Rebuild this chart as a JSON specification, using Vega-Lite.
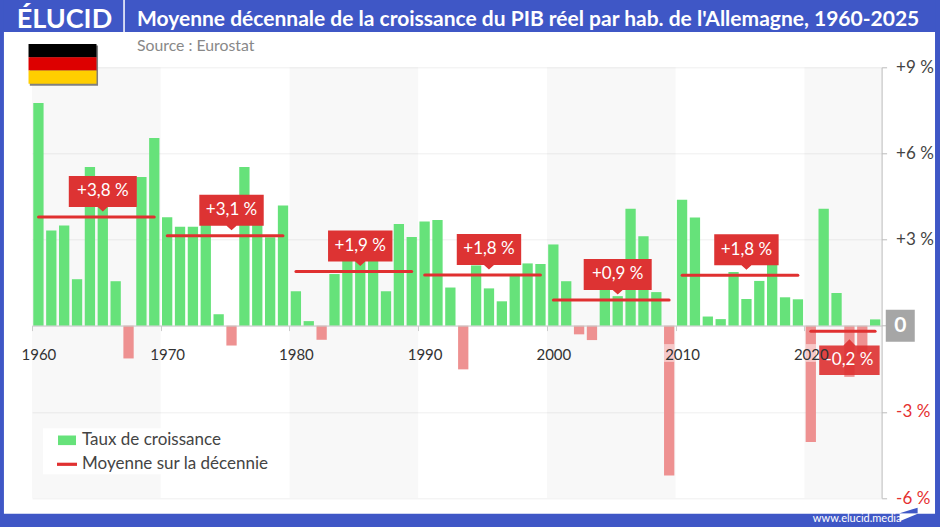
{
  "$schema": "https://vega.github.io/schema/vega-lite/v6.json",
  "autosize": "none",
  "width": 849.6,
  "height": 430.7,
  "padding": {"left": 32, "top": 67.3, "right": 58.4, "bottom": 29},
  "background": "#ffffff",
  "title": {
    "text": "Moyenne décennale de la croissance du PIB réel par hab. de l'Allemagne, 1960-2025",
    "subtitle": "Source : Eurostat",
    "anchor": "start",
    "frame": "group",
    "dx": 105,
    "offset": -54,
    "font": "Lato",
    "fontSize": 21,
    "fontWeight": "bold",
    "color": "#ffffff",
    "subtitleFont": "Lato",
    "subtitleFontSize": 15.8,
    "subtitleColor": "#888888",
    "subtitlePadding": 9,
    "zindex": 1
  },
  "datasets": {
    "one": [{"k": 1}],
    "growth": [
      {"year": 1960, "growth": 7.76}, {"year": 1961, "growth": 3.32}, {"year": 1962, "growth": 3.49},
      {"year": 1963, "growth": 1.62}, {"year": 1964, "growth": 5.53}, {"year": 1965, "growth": 4.4},
      {"year": 1966, "growth": 1.55}, {"year": 1967, "growth": -1.14}, {"year": 1968, "growth": 5.18},
      {"year": 1969, "growth": 6.54}, {"year": 1970, "growth": 3.78}, {"year": 1971, "growth": 3.45},
      {"year": 1972, "growth": 3.45}, {"year": 1973, "growth": 4.2}, {"year": 1974, "growth": 0.4},
      {"year": 1975, "growth": -0.69}, {"year": 1976, "growth": 5.53}, {"year": 1977, "growth": 3.6},
      {"year": 1978, "growth": 3.08}, {"year": 1979, "growth": 4.19}, {"year": 1980, "growth": 1.2},
      {"year": 1981, "growth": 0.16}, {"year": 1982, "growth": -0.49}, {"year": 1983, "growth": 1.8},
      {"year": 1984, "growth": 2.9}, {"year": 1985, "growth": 2.4}, {"year": 1986, "growth": 2.4},
      {"year": 1987, "growth": 1.2}, {"year": 1988, "growth": 3.54}, {"year": 1989, "growth": 3.09},
      {"year": 1990, "growth": 3.63}, {"year": 1991, "growth": 3.68}, {"year": 1992, "growth": 1.33},
      {"year": 1993, "growth": -1.52}, {"year": 1994, "growth": 2.1}, {"year": 1995, "growth": 1.3},
      {"year": 1996, "growth": 0.85}, {"year": 1997, "growth": 1.74}, {"year": 1998, "growth": 2.17},
      {"year": 1999, "growth": 2.15}, {"year": 2000, "growth": 2.83}, {"year": 2001, "growth": 1.55},
      {"year": 2002, "growth": -0.3}, {"year": 2003, "growth": -0.5}, {"year": 2004, "growth": 1.27},
      {"year": 2005, "growth": 1.03}, {"year": 2006, "growth": 4.07}, {"year": 2007, "growth": 3.12},
      {"year": 2008, "growth": 1.17}, {"year": 2009, "growth": -5.22}, {"year": 2010, "growth": 4.39},
      {"year": 2011, "growth": 3.77}, {"year": 2012, "growth": 0.32}, {"year": 2013, "growth": 0.23},
      {"year": 2014, "growth": 1.87}, {"year": 2015, "growth": 0.93}, {"year": 2016, "growth": 1.56},
      {"year": 2017, "growth": 2.2}, {"year": 2018, "growth": 0.99}, {"year": 2019, "growth": 0.92},
      {"year": 2020, "growth": -4.05}, {"year": 2021, "growth": 4.07}, {"year": 2022, "growth": 1.14},
      {"year": 2023, "growth": -1.78}, {"year": 2024, "growth": -1.0}, {"year": 2025, "growth": 0.22}
    ],
    "shaded": [
      {"from": 1960, "to": 1970},
      {"from": 1980, "to": 1990},
      {"from": 2000, "to": 2010},
      {"from": 2020, "to": 2026}
    ],
    "means": [
      {"from": 1960, "to": 1970, "at": 1965, "mean": 3.79, "label": "+3,8 %"},
      {"from": 1970, "to": 1980, "at": 1975, "mean": 3.13, "label": "+3,1 %"},
      {"from": 1980, "to": 1990, "at": 1985, "mean": 1.89, "label": "+1,9 %"},
      {"from": 1990, "to": 2000, "at": 1995, "mean": 1.77, "label": "+1,8 %"},
      {"from": 2000, "to": 2010, "at": 2005, "mean": 0.9, "label": "+0,9 %"},
      {"from": 2010, "to": 2020, "at": 2015, "mean": 1.76, "label": "+1,8 %"},
      {"from": 2020, "to": 2026, "at": 2023, "mean": -0.19, "label": "-0,2 %"}
    ],
    "series": [
      {"serie": "Taux de croissance"},
      {"serie": "Moyenne sur la décennie"}
    ]
  },
  "layer": [
    {
      "data": {"name": "shaded"},
      "mark": {"type": "rect", "fill": "#000000", "opacity": 0.028},
      "encoding": {
        "x": {
          "field": "from",
          "type": "quantitative",
          "scale": {"domain": [1960, 2026], "nice": false, "zero": false, "padding": 0},
          "axis": {
            "title": null,
            "values": [1960, 1970, 1980, 1990, 2000, 2010, 2020],
            "format": "d",
            "offset": -172.4,
            "grid": false,
            "zindex": 1,
            "domainColor": "#cccccc",
            "tickColor": "#cccccc",
            "tickSize": 5,
            "labelOffset": 6.43,
            "labelPadding": 17,
            "labelFont": "Lato",
            "labelFontSize": 15,
            "labelColor": "#333333",
            "labelOverlap": false,
            "labelFlush": false
          }
        },
        "x2": {"field": "to"},
        "y": {
          "datum": 9,
          "type": "quantitative",
          "scale": {"domain": [-6, 9], "nice": false, "zero": false, "padding": 0},
          "axis": {
            "title": null,
            "orient": "right",
            "values": [-6, -3, 0, 3, 6, 9],
            "labelExpr": "datum.value > 0 ? '+' + datum.value + ' %' : datum.value < 0 ? datum.value + ' %' : ''",
            "grid": true,
            "gridColor": "#efefef",
            "domainColor": "#bbbbbb",
            "tickColor": "#bbbbbb",
            "tickSize": 5,
            "labelPadding": 9,
            "labelFont": "Lato",
            "labelFontSize": 17,
            "labelColor": {"condition": {"test": "datum.value < 0", "value": "#e53030"}, "value": "#444444"}
          }
        },
        "y2": {"datum": -6}
      }
    },
    {
      "data": {"name": "growth"},
      "mark": {"type": "bar", "orient": "vertical", "width": 10.3, "xOffset": 6.43},
      "encoding": {
        "x": {"field": "year", "type": "quantitative"},
        "y": {"field": "growth", "type": "quantitative"},
        "color": {
          "condition": {"test": "datum.growth < 0", "value": "#ee9191"},
          "value": "#66e27a"
        }
      }
    },
    {
      "data": {"name": "growth"},
      "transform": [{"filter": "datum.year == 2009 || datum.year == 2020"}],
      "mark": {"type": "bar", "orient": "vertical", "width": 10.3, "xOffset": 6.43, "fill": "#ffffff", "opacity": 0.5},
      "encoding": {
        "x": {"field": "year", "type": "quantitative"},
        "y": {"datum": -0.64, "type": "quantitative"},
        "y2": {"datum": -1.26}
      }
    },
    {
      "data": {"name": "means"},
      "mark": {"type": "rule", "color": "#e03030", "strokeWidth": 3, "strokeCap": "round", "xOffset": 6.5, "x2Offset": -6.5},
      "encoding": {
        "x": {"field": "from", "type": "quantitative"},
        "x2": {"field": "to"},
        "y": {"field": "mean", "type": "quantitative"}
      }
    },
    {
      "data": {"name": "means"},
      "transform": [{"filter": "datum.label == '+3,8 %' || datum.label == '+0,9 %'"}],
      "mark": {"type": "point", "filled": true, "opacity": 1, "color": "#dd3333", "size": 40000, "xOffset": 6.43, "shape": "M-.34,-.41H.34V-.10H.05L0,-.055L-.05,-.10H-.34Z"},
      "encoding": {
        "x": {"field": "at", "type": "quantitative"},
        "y": {"field": "mean", "type": "quantitative"}
      }
    },
    {
      "data": {"name": "means"},
      "transform": [{"filter": "datum.mean > 0 && datum.label != '+3,8 %' && datum.label != '+0,9 %'"}],
      "mark": {"type": "point", "filled": true, "opacity": 1, "color": "#dd3333", "size": 40000, "xOffset": 6.43, "shape": "M-.322,-.41H.322V-.10H.05L0,-.055L-.05,-.10H-.322Z"},
      "encoding": {
        "x": {"field": "at", "type": "quantitative"},
        "y": {"field": "mean", "type": "quantitative"}
      }
    },
    {
      "data": {"name": "means"},
      "transform": [{"filter": "datum.mean < 0"}],
      "mark": {"type": "point", "filled": true, "opacity": 0.92, "color": "#dd3333", "size": 40000, "xOffset": 6.43, "shape": "M-.302,.143H-.06L0,.08L.06,.143H.302V.437H-.302Z"},
      "encoding": {
        "x": {"field": "at", "type": "quantitative"},
        "y": {"field": "mean", "type": "quantitative"}
      }
    },
    {
      "data": {"name": "means"},
      "transform": [{"filter": "datum.mean > 0"}],
      "mark": {"type": "text", "font": "Lato", "fontSize": 17, "color": "#ffffff", "baseline": "middle", "xOffset": 6.43, "dy": -25.5},
      "encoding": {
        "x": {"field": "at", "type": "quantitative"},
        "y": {"field": "mean", "type": "quantitative"},
        "text": {"field": "label"}
      }
    },
    {
      "data": {"name": "means"},
      "transform": [{"filter": "datum.mean < 0"}],
      "mark": {"type": "text", "font": "Lato", "fontSize": 17, "color": "#ffffff", "baseline": "middle", "xOffset": 6.43, "dy": 29},
      "encoding": {
        "x": {"field": "at", "type": "quantitative"},
        "y": {"field": "mean", "type": "quantitative"},
        "text": {"field": "label"}
      }
    },
    {
      "data": {"name": "series"},
      "mark": {"type": "point", "filled": true, "opacity": 1, "size": 0},
      "encoding": {
        "x": {"datum": 2000, "type": "quantitative"},
        "y": {"datum": 0, "type": "quantitative"},
        "color": {
          "field": "serie",
          "type": "nominal",
          "scale": {"domain": ["Taux de croissance", "Moyenne sur la décennie"], "range": ["#66e27a", "#e03030"]},
          "legend": {
            "title": null,
            "orient": "none",
            "legendX": 11,
            "legendY": 361,
            "fillColor": "#ffffff",
            "padding": 2,
            "labelFont": "Lato",
            "labelFontSize": 17,
            "labelColor": "#444444",
            "labelLimit": 300,
            "symbolSize": 400,
            "symbolOpacity": 1,
            "symbolStrokeWidth": 0,
            "symbolOffset": 12,
            "rowPadding": 6,
            "labelOffset": 5
          }
        },
        "shape": {
          "field": "serie",
          "type": "nominal",
          "scale": {"domain": ["Taux de croissance", "Moyenne sur la décennie"], "range": ["M-.9,-.48H.9V.48H-.9Z", "M-1,-.16H1V.16H-1Z"]},
          "legend": {"title": null}
        }
      }
    },
    {
      "data": {"name": "one"},
      "mark": {"type": "rect", "fill": "#808080"},
      "encoding": {
        "x": {"datum": 1959.83, "type": "quantitative"},
        "x2": {"datum": 1965.13},
        "y": {"datum": 9.76, "type": "quantitative"},
        "y2": {"datum": 8.36}
      }
    },
    {
      "data": {"name": "one"},
      "mark": {"type": "rect", "fill": "#000000"},
      "encoding": {
        "x": {"datum": 1959.73, "type": "quantitative"},
        "x2": {"datum": 1965.01},
        "y": {"datum": 9.81, "type": "quantitative"},
        "y2": {"datum": 9.35}
      }
    },
    {
      "data": {"name": "one"},
      "mark": {"type": "rect", "fill": "#dd0000"},
      "encoding": {
        "x": {"datum": 1959.73, "type": "quantitative"},
        "x2": {"datum": 1965.01},
        "y": {"datum": 9.35, "type": "quantitative"},
        "y2": {"datum": 8.89}
      }
    },
    {
      "data": {"name": "one"},
      "mark": {"type": "rect", "fill": "#ffce00"},
      "encoding": {
        "x": {"datum": 1959.73, "type": "quantitative"},
        "x2": {"datum": 1965.01},
        "y": {"datum": 8.89, "type": "quantitative"},
        "y2": {"datum": 8.43}
      }
    },
    {
      "data": {"name": "one"},
      "mark": {"type": "point", "filled": true, "opacity": 1, "color": "#a6a6a6", "size": 3364, "shape": "M-.5,-.55H.5V.55H-.5Z"},
      "encoding": {
        "x": {"datum": 2027.45, "type": "quantitative"},
        "y": {"datum": 0, "type": "quantitative"}
      }
    },
    {
      "data": {"name": "one"},
      "mark": {"type": "text", "text": "0", "font": "Lato", "fontSize": 21, "fontWeight": "bold", "color": "#ffffff", "baseline": "middle"},
      "encoding": {
        "x": {"datum": 2027.45, "type": "quantitative"},
        "y": {"datum": 0, "type": "quantitative"}
      }
    },
    {
      "data": {"name": "one"},
      "mark": {"type": "rect", "fill": "#3f57c6"},
      "encoding": {
        "x": {"datum": 1957.51, "type": "quantitative"},
        "x2": {"datum": 2030.54},
        "y": {"datum": 11.34, "type": "quantitative"},
        "y2": {"datum": 10.23}
      }
    },
    {
      "data": {"name": "one"},
      "mark": {"type": "rect", "fill": "#3f57c6"},
      "encoding": {
        "x": {"datum": 1957.51, "type": "quantitative"},
        "x2": {"datum": 1957.82},
        "y": {"datum": 11.34, "type": "quantitative"},
        "y2": {"datum": -7.02}
      }
    },
    {
      "data": {"name": "one"},
      "mark": {"type": "rect", "fill": "#3f57c6"},
      "encoding": {
        "x": {"datum": 2030.15, "type": "quantitative"},
        "x2": {"datum": 2030.54},
        "y": {"datum": 11.34, "type": "quantitative"},
        "y2": {"datum": -7.02}
      }
    },
    {
      "data": {"name": "one"},
      "mark": {"type": "rect", "fill": "#3f57c6"},
      "encoding": {
        "x": {"datum": 1957.51, "type": "quantitative"},
        "x2": {"datum": 2030.54},
        "y": {"datum": -6.545, "type": "quantitative"},
        "y2": {"datum": -7.02}
      }
    },
    {
      "data": {"name": "one"},
      "mark": {"type": "rule", "color": "#ffffff", "strokeWidth": 1.5},
      "encoding": {
        "x": {"datum": 1967.15, "type": "quantitative"},
        "y": {"datum": 11.34, "type": "quantitative"},
        "y2": {"datum": 10.23}
      }
    },
    {
      "data": {"name": "one"},
      "mark": {"type": "text", "text": "ÉLUCID", "font": "Lato", "fontSize": 27, "fontWeight": "bold", "color": "#ffffff", "baseline": "middle"},
      "encoding": {
        "x": {"datum": 1962.52, "type": "quantitative"},
        "y": {"datum": 10.65, "type": "quantitative"}
      }
    },
    {
      "data": {"name": "one"},
      "mark": {"type": "text", "text": "www.elucid.media", "font": "Lato", "fontSize": 11, "color": "#ffffff", "baseline": "middle"},
      "encoding": {
        "x": {"datum": 2024.1, "type": "quantitative"},
        "y": {"datum": -6.72, "type": "quantitative"}
      }
    },
    {
      "data": {"name": "one"},
      "mark": {"type": "point", "filled": true, "opacity": 1, "color": "#ffffff", "size": 40000, "shape": "M-.09,0H.09L-.09,.075Z"},
      "encoding": {
        "x": {"datum": 2028.1, "type": "quantitative"},
        "y": {"datum": -6.545, "type": "quantitative"}
      }
    },
    {
      "data": {"name": "one"},
      "mark": {"type": "point", "filled": true, "opacity": 1, "color": "#3f57c6", "size": 40000, "shape": "M-.09,-.005L.09,-.06V-.005Z"},
      "encoding": {
        "x": {"datum": 2028.1, "type": "quantitative"},
        "y": {"datum": -6.545, "type": "quantitative"}
      }
    }
  ],
  "config": {"view": {"stroke": null}}
}
